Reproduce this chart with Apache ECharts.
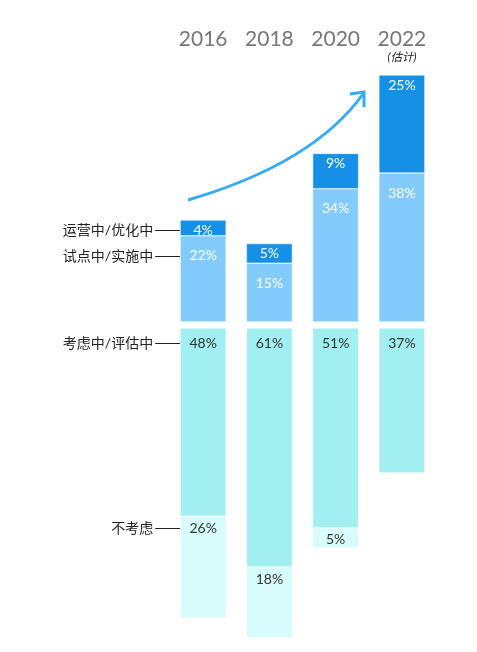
<!DOCTYPE html>
<html>
<head>
<meta charset="utf-8">
<script src="https://cdn.jsdelivr.net/npm/echarts@6/dist/echarts.min.js"></script>
<style>
html, body { margin: 0; padding: 0; background: #fff; }
#main { width: 477px; height: 652px; }
</style>
</head>
<body>
<div id="main"></div>
<script>
var years = ['2016', '2018', '2020', '2022'];
var yearNotes = ['', '', '', '(估计)'];
var operating = [4, 5, 9, 25];        // 运营中/优化中
var piloting = [22, 15, 34, 38];      // 试点中/实施中
var considering = [48, 61, 51, 37];   // 考虑中/评估中
var notConsidering = [26, 18, 5, null]; // 不考虑

var font = 'Lato, "Noto Sans CJK SC", sans-serif';
var myChart = echarts.init(document.getElementById('main'));

function pct(p) { return p.value == null ? '' : p.value + '%'; }

option = {
    backgroundColor: '#fff',
    animation: false,
    textStyle: { fontFamily: font },
    grid: [
        { left: 170, right: 42, top: 67.2, bottom: 330 },
        { left: 170, right: 42, top: 328, bottom: 10.4 }
    ],
    xAxis: [{
        gridIndex: 0,
        type: 'category',
        position: 'top',
        data: years,
        axisLine: { show: false },
        axisTick: { show: false },
        axisLabel: {
            margin: 3,
            formatter: function (v, i) {
                return '{y|' + v + '}\n{s|' + (yearNotes[i] || ' ') + '}';
            },
            rich: {
                y: { fontSize: 21, color: '#777', fontFamily: font, lineHeight: 24 },
                s: { fontSize: 11.5, color: '#222', fontStyle: 'italic', fontFamily: font, lineHeight: 13 }
            }
        }
    }, {
        gridIndex: 1,
        type: 'category',
        data: years,
        show: false
    }],
    yAxis: [{
        gridIndex: 0, type: 'value', min: 0, max: 65, show: false
    }, {
        gridIndex: 1, type: 'value', min: 0, max: 80, inverse: true, show: false
    }],
    series: [{
        name: '试点中/实施中',
        type: 'bar', stack: 'up', barWidth: 46,
        xAxisIndex: 0, yAxisIndex: 0,
        data: piloting,
        itemStyle: { color: '#82cbfc', borderColor: '#fff', borderWidth: 0.5 },
        label: { show: true, position: 'insideTop', distance: 13, color: '#fff', fontSize: 14, formatter: pct }
    }, {
        name: '运营中/优化中',
        type: 'bar', stack: 'up', barWidth: 46,
        xAxisIndex: 0, yAxisIndex: 0,
        data: operating,
        itemStyle: { color: '#1690e6', borderColor: '#fff', borderWidth: 0.5 },
        label: { show: true, position: 'insideTop', distance: 3, color: '#fff', fontSize: 14, formatter: pct }
    }, {
        name: '考虑中/评估中',
        type: 'bar', stack: 'down', barWidth: 46,
        xAxisIndex: 1, yAxisIndex: 1,
        data: considering,
        itemStyle: { color: '#a1eff0', borderColor: '#fff', borderWidth: 0.5 },
        label: { show: true, position: 'insideTop', distance: 8, color: '#333', fontSize: 14, formatter: pct }
    }, {
        name: '不考虑',
        type: 'bar', stack: 'down', barWidth: 46,
        xAxisIndex: 1, yAxisIndex: 1,
        data: notConsidering,
        itemStyle: { color: '#d8fbfb', borderColor: '#fff', borderWidth: 0.5 },
        label: { show: true, position: 'insideTop', distance: 5, color: '#333', fontSize: 14, formatter: pct }
    }]
};
myChart.setOption(option);

// 左侧图例：对齐 2016 柱子各段标签
var barHalf = 23;
var legendItems = [
    { name: '运营中/优化中', grid: 0, val: piloting[0] + operating[0], dist: 3 },
    { name: '试点中/实施中', grid: 0, val: piloting[0], dist: 13 },
    { name: '考虑中/评估中', grid: 1, val: 0, dist: 8 },
    { name: '不考虑', grid: 1, val: considering[0], dist: 5 }
];
var graphics = [];
legendItems.forEach(function (it) {
    var p = myChart.convertToPixel({ xAxisIndex: it.grid, yAxisIndex: it.grid }, [0, it.val]);
    var left = p[0] - barHalf;
    var y = Math.round(p[1] + it.dist + 7) + 0.5;
    graphics.push({
        type: 'line',
        shape: { x1: left - 25, y1: y, x2: left, y2: y },
        style: { stroke: '#222', lineWidth: 1 }
    });
    graphics.push({
        type: 'text',
        x: left - 27, y: y,
        style: { text: it.name, fill: '#222', font: '14px ' + font, textAlign: 'right', textVerticalAlign: 'middle' }
    });
});

// 增长箭头
graphics.push({
    type: 'bezierCurve',
    shape: { x1: 188, y1: 200, cpx1: 270, cpy1: 176, cpx2: 330, cpy2: 140, x2: 363, y2: 94 },
    style: { stroke: '#35abf4', lineWidth: 3, fill: null }
});
graphics.push({
    type: 'polyline',
    shape: { points: [[350, 94], [364, 92], [364, 107]] },
    style: { stroke: '#35abf4', lineWidth: 3, fill: null }
});
myChart.setOption({ graphic: graphics });
</script>
</body>
</html>
